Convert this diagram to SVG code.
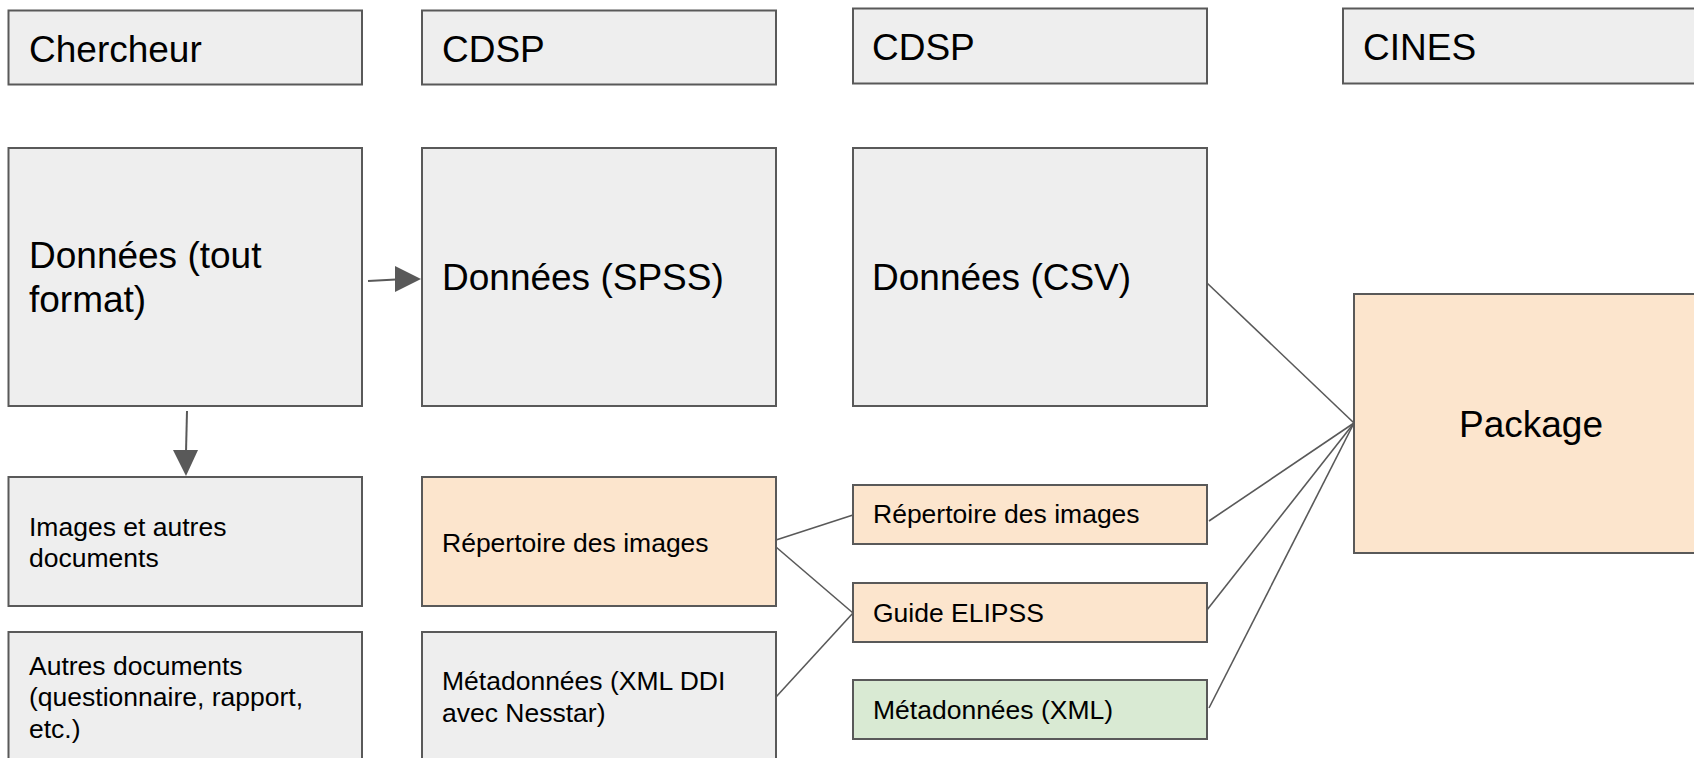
<svg xmlns="http://www.w3.org/2000/svg" width="1694" height="758" viewBox="0 0 1694 758">
<defs>
<style>
.g{fill:#eeeeee;stroke:#595959;stroke-width:2}
.o{fill:#fce5cd;stroke:#595959;stroke-width:2}
.gr{fill:#d9ead3;stroke:#595959;stroke-width:2}
.L{font-family:"Liberation Sans",Arial,sans-serif;font-size:37px;fill:#000}
.S{font-family:"Liberation Sans",Arial,sans-serif;font-size:26.5px;fill:#000}
.c{stroke:#595959;stroke-width:1.6;fill:none}
.a{stroke:#595959;stroke-width:2;fill:none}
</style>
</defs>
<rect width="1694" height="758" fill="#ffffff"/>

<g id="connectors">
<line class="a" x1="368" y1="281" x2="396" y2="279.5"/>
<path d="M395,266 L421,279 L395,292 z" fill="#595959"/>
<line class="a" x1="187" y1="411" x2="186" y2="452"/>
<path d="M173,450 L186,476 L198,450 z" fill="#595959"/>
<line class="c" x1="776" y1="540" x2="853" y2="515"/>
<line class="c" x1="776" y1="547" x2="853" y2="613"/>
<line class="c" x1="776" y1="697" x2="853" y2="613"/>
<line class="c" x1="1207" y1="283" x2="1354" y2="423"/>
<line class="c" x1="1209" y1="521" x2="1354" y2="423"/>
<line class="c" x1="1203" y1="615" x2="1354" y2="423"/>
<line class="c" x1="1209" y1="708" x2="1354" y2="423"/>
</g>

<g id="h-chercheur"><rect class="g" x="8.5" y="10.5" width="353.5" height="74"/><text class="L" x="29" y="62">Chercheur</text></g>
<g id="h-cdsp1"><rect class="g" x="422" y="10.5" width="354" height="74"/><text class="L" x="442" y="62">CDSP</text></g>
<g id="h-cdsp2"><rect class="g" x="853" y="8.5" width="354" height="75"/><text class="L" x="872" y="60">CDSP</text></g>
<g id="h-cines"><rect class="g" x="1343" y="8.5" width="360" height="75"/><text class="L" x="1363" y="60">CINES</text></g>

<g id="donnees-tout"><rect class="g" x="8.5" y="148" width="353.5" height="258"/><text class="L" x="29" y="268">Données (tout</text><text class="L" x="29" y="312">format)</text></g>
<g id="donnees-spss"><rect class="g" x="422" y="148" width="354" height="258"/><text class="L" x="442" y="290">Données (SPSS)</text></g>
<g id="donnees-csv"><rect class="g" x="853" y="148" width="354" height="258"/><text class="L" x="872" y="290">Données (CSV)</text></g>
<g id="package"><rect class="o" x="1354" y="294" width="356" height="259"/><text class="L" x="1531" y="437" text-anchor="middle">Package</text></g>

<g id="images-autres"><rect class="g" x="8.5" y="477" width="353.5" height="129"/><text class="S" x="29" y="536">Images et autres</text><text class="S" x="29" y="567">documents</text></g>
<g id="repertoire-1"><rect class="o" x="422" y="477" width="354" height="129"/><text class="S" x="442" y="552">Répertoire des images</text></g>
<g id="autres-docs"><rect class="g" x="8.5" y="632" width="353.5" height="140"/><text class="S" x="29" y="675">Autres documents</text><text class="S" x="29" y="706">(questionnaire, rapport,</text><text class="S" x="29" y="738">etc.)</text></g>
<g id="metadonnees-ddi"><rect class="g" x="422" y="632" width="354" height="140"/><text class="S" x="442" y="690">Métadonnées (XML DDI</text><text class="S" x="442" y="722">avec Nesstar)</text></g>

<g id="repertoire-2"><rect class="o" x="853" y="485" width="354" height="59"/><text class="S" x="873" y="523">Répertoire des images</text></g>
<g id="guide-elipss"><rect class="o" x="853" y="583" width="354" height="59"/><text class="S" x="873" y="622">Guide ELIPSS</text></g>
<g id="metadonnees-xml"><rect class="gr" x="853" y="680" width="354" height="59"/><text class="S" x="873" y="719">Métadonnées (XML)</text></g>
</svg>
